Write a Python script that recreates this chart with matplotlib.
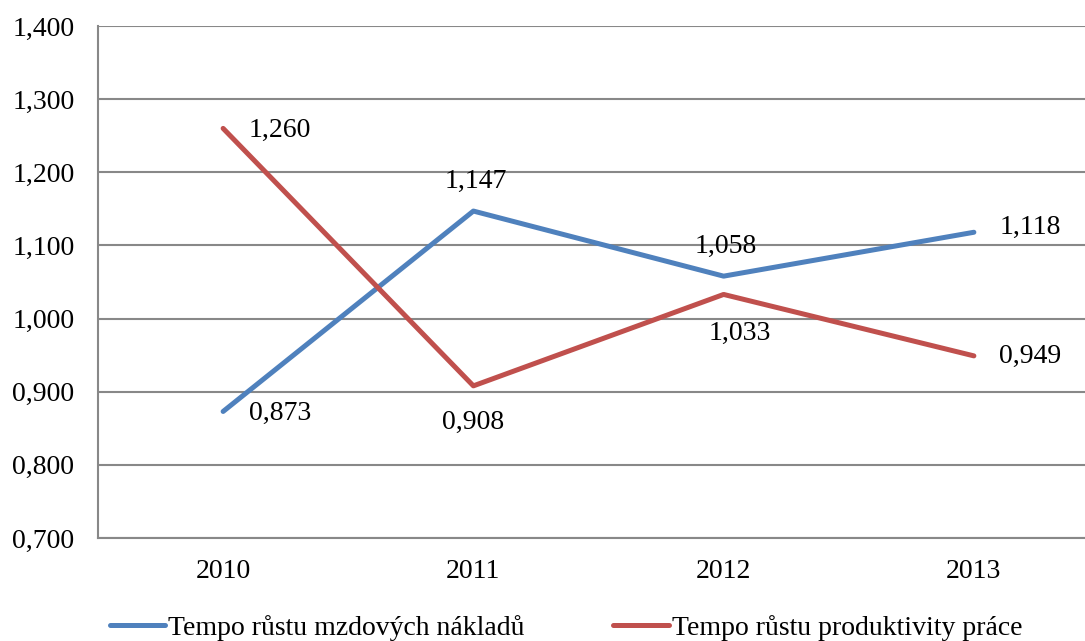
import matplotlib
matplotlib.use("Agg")
import matplotlib.pyplot as plt
from matplotlib.ticker import FuncFormatter

years = ["2010", "2011", "2012", "2013"]
mzdy = [0.873, 1.147, 1.058, 1.118]
produktivita = [1.260, 0.908, 1.033, 0.949]
label_mzdy = "Tempo růstu mzdových nákladů"
label_prod = "Tempo růstu produktivity práce"

plt.rcParams["font.family"] = ["Liberation Serif", "DejaVu Serif"]
plt.rcParams["font.size"] = 20

fig = plt.figure(figsize=(10.85, 6.41), dpi=100)
ax = fig.add_axes([98 / 1085, 1 - 538 / 641, 1001 / 1085, 512 / 641])

x = range(len(years))
ax.plot(x, mzdy, color="#4F81BD", lw=3.6, label=label_mzdy, solid_capstyle="round")
ax.plot(x, produktivita, color="#C0504D", lw=3.6, label=label_prod, solid_capstyle="round")

ax.set_xlim(-0.5, 3.5)
ax.set_ylim(0.7, 1.4)
ax.set_yticks([0.7 + 0.1 * i for i in range(8)])
ax.yaxis.set_major_formatter(FuncFormatter(lambda v, p: f"{v:.3f}".replace(".", ",")))
ax.set_xticks(list(x))
ax.set_xticklabels(years)
ax.tick_params(length=0)
ax.tick_params(axis="y", pad=17)
ax.tick_params(axis="x", pad=15)
ax.grid(axis="y", color="#888888", lw=1.5)
ax.set_axisbelow(True)
for s in ["top", "right"]:
    ax.spines[s].set_visible(False)
for s in ["left", "bottom"]:
    ax.spines[s].set_color("#888888")
    ax.spines[s].set_linewidth(1.5)

fmt = lambda v: f"{v:.3f}".replace(".", ",")
# label offsets in pixels (dx, dy)
off_m = [(57, -2), (2, 30), (2, 30), (56, 5)]
off_p = [(57, -2), (0, -37), (16, -39), (56, -1)]
for i, v in enumerate(mzdy):
    ax.annotate(fmt(v), (i, v), xytext=off_m[i], textcoords="offset pixels",
                ha="center", va="center")
for i, v in enumerate(produktivita):
    ax.annotate(fmt(v), (i, v), xytext=off_p[i], textcoords="offset pixels",
                ha="center", va="center")

fig.legend(loc="center", bbox_to_anchor=(566 / 1085, 1 - 628 / 641), ncol=2,
           frameon=False, handlelength=2.0, handletextpad=0.1, columnspacing=3.2,
           borderaxespad=0)

fig.savefig("out.png", dpi=100)
